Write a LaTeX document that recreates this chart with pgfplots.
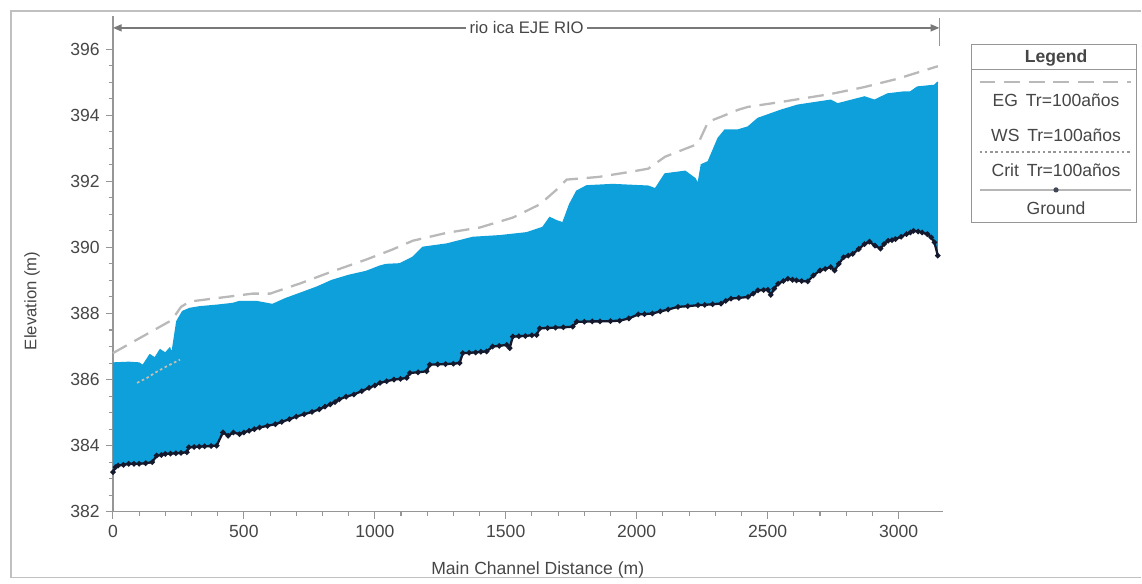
\documentclass[border=0pt]{standalone}
\usepackage{fontspec}
\setmainfont{Liberation Sans}
\usepackage{pgfplots}
\pgfplotsset{compat=1.18}
\usepackage{pgfplotstable}
\usepgfplotslibrary{fillbetween}
\usetikzlibrary{arrows.meta}
\definecolor{water}{RGB}{14,160,218}
\definecolor{txt}{RGB}{70,70,70}
\definecolor{axc}{RGB}{150,150,150}
\definecolor{egc}{RGB}{185,185,185}
\definecolor{critc}{RGB}{200,190,175}
\definecolor{grc}{RGB}{20,25,45}

\pgfplotstableread{
x y
0 383.2
10 383.35
20 383.4
40 383.42
60 383.45
80 383.45
100 383.45
125 383.47
150 383.5
167 383.7
185 383.72
200 383.75
220 383.76
240 383.77
260 383.78
282 383.8
290 383.95
310 383.96
330 383.97
350 383.98
375 383.99
396 384.0
420 384.4
440 384.3
460 384.4
483 384.35
500 384.4
520 384.45
540 384.5
560 384.55
590 384.6
620 384.65
645 384.72
674 384.8
700 384.88
730 384.95
760 385.02
788 385.1
810 385.18
830 385.25
848 385.32
864 385.4
890 385.48
920 385.55
950 385.65
978 385.75
1000 385.82
1020 385.9
1045 385.95
1073 386.0
1098 386.02
1122 386.05
1134 386.2
1165 386.22
1198 386.25
1210 386.45
1240 386.46
1270 386.47
1300 386.48
1324 386.5
1336 386.8
1360 386.81
1385 386.82
1405 386.84
1427 386.85
1450 387.0
1475 387.02
1504 387.05
1515 386.95
1527 387.3
1550 387.31
1575 387.32
1600 387.34
1618 387.35
1630 387.55
1660 387.56
1690 387.57
1720 387.58
1756 387.6
1771 387.75
1800 387.75
1830 387.76
1860 387.76
1900 387.77
1935 387.78
1970 387.85
2006 387.97
2030 387.98
2060 388.0
2090 388.06
2120 388.12
2158 388.2
2195 388.22
2234 388.25
2260 388.26
2290 388.28
2322 388.3
2340 388.38
2360 388.45
2390 388.47
2425 388.5
2445 388.6
2463 388.7
2485 388.71
2501 388.72
2512 388.56
2525 388.75
2540 388.9
2560 388.98
2577 389.05
2595 389.02
2610 389.0
2630 388.98
2653 388.97
2675 389.15
2700 389.3
2720 389.35
2741 389.4
2756 389.3
2772 389.5
2790 389.7
2808 389.75
2825 389.8
2848 389.95
2870 390.1
2889 390.17
2910 390.05
2931 389.96
2945 390.1
2960 390.2
2975 390.22
2988 390.25
3010 390.32
3030 390.4
3045 390.45
3057 390.5
3075 390.48
3090 390.45
3110 390.4
3125 390.3
3137 390.15
3150 389.75
}\ground

\pgfplotstableread{
x y
0 386.5
60 386.52
100 386.5
114 386.42
141 386.75
160 386.65
180 386.9
200 386.8
217 386.95
225 386.77
244 387.76
266 388.06
293 388.15
331 388.2
400 388.25
457 388.3
483 388.36
548 388.36
609 388.27
660 388.45
712 388.6
780 388.8
837 389.0
900 389.15
967 389.27
1019 389.43
1043 389.48
1095 389.5
1145 389.7
1183 390.0
1275 390.1
1374 390.3
1477 390.35
1580 390.44
1641 390.6
1668 390.9
1695 390.8
1718 390.74
1744 391.3
1771 391.7
1809 391.86
1908 391.9
2044 391.85
2071 391.77
2108 392.22
2185 392.3
2223 392.08
2234 391.9
2247 392.5
2273 392.59
2311 393.3
2337 393.55
2387 393.55
2425 393.64
2463 393.9
2552 394.15
2615 394.3
2741 394.45
2767 394.34
2870 394.55
2908 394.45
2958 394.64
3022 394.7
3045 394.7
3072 394.85
3137 394.9
3150 395.0
}\ws

\pgfplotstableread{
x y
0 386.8
225 387.8
260 388.2
293 388.36
533 388.6
600 388.6
712 388.9
837 389.27
967 389.63
1066 389.93
1145 390.2
1275 390.44
1401 390.6
1527 390.9
1630 391.3
1695 391.75
1733 392.05
1854 392.13
1980 392.29
2044 392.38
2108 392.74
2185 392.98
2234 393.13
2273 393.8
2322 393.95
2387 394.16
2425 394.25
2552 394.4
2741 394.64
2870 394.85
2996 395.1
3150 395.48
}\eg

\pgfplotstableread{
x y
92 385.9
130 386.05
170 386.25
210 386.42
256 386.6
}\crit

\begin{document}
\begin{tikzpicture}
\path (0,0) rectangle (22.84,11.62);
% outer frame
\draw[axc!60, line width=0.6pt] (22.84,11.40) -- (0.22,11.40) -- (0.22,0.06) -- (22.84,0.06);
\begin{axis}[
  at={(2.26cm,1.38cm)}, anchor=south west,
  scale only axis, width=16.61cm, height=9.92cm,
  xmin=0, xmax=3170, ymin=382, ymax=397,
  axis x line*=bottom, axis y line*=left,
  axis line style={axc, line width=0.7pt},
  xtick={0,500,...,3000}, ytick={382,384,...,396},
  minor x tick num=4, minor y tick num=3,
  tick align=outside,
  major tick length=4pt, minor tick length=2.5pt,
  tick style={axc, line width=0.6pt},
  /pgf/number format/assume math mode=true,
  /pgf/number format/1000 sep={},
  ticklabel style={font=\fontsize{10}{12}\selectfont, text=txt},
  clip=false,
]
\addplot[name path=wsl, draw=water, line width=0.8pt] table[x=x,y=y] {\ws};
\addplot[name path=grl, draw=none] table[x=x,y=y] {\ground};
\addplot[water] fill between[of=wsl and grl];
\addplot[egc, line width=1.3pt, dash pattern=on 9pt off 5pt] table[x=x,y=y] {\eg};
\addplot[critc, line width=1pt, dash pattern=on 1.5pt off 1.5pt] table[x=x,y=y] {\crit};
\addplot[grc, line width=1.3pt, mark=*, mark size=0.8pt] table[x=x,y=y] {\ground};
% reach annotation
\draw[axc!80!black, line width=0.9pt, {Triangle[length=5pt,width=4pt]}-{Triangle[length=5pt,width=4pt]}] (axis cs:0,396.64) -- (axis cs:3156,396.64);
\node[fill=white, inner sep=2pt, font=\fontsize{9.5}{11}\selectfont, text=txt] at (axis cs:1580,396.64) {rio ica EJE RIO};
\draw[axc, line width=0.7pt] (axis cs:3156,396.95) -- (axis cs:3156,396.1);
\end{axis}
% axis labels
\node[font=\fontsize{10}{12}\selectfont, text=txt] at (10.76,0.22) {Main Channel Distance (m)};
\node[font=\fontsize{9.5}{11}\selectfont, text=txt, rotate=90] at (0.64,5.6) {Elevation (m)};
% legend box
\draw[axc, line width=0.6pt, fill=white] (19.44,7.16) rectangle (22.74,10.72);
\node[font=\bfseries\fontsize{10}{12}\selectfont, text=txt] at (21.13,10.46) {Legend};
\draw[axc, line width=0.6pt] (19.44,10.22) -- (22.74,10.22);
\draw[egc, line width=1.3pt, dash pattern=on 9pt off 5pt] (19.6,9.98) -- (22.64,9.98);
\node[font=\fontsize{10}{12}\selectfont, text=txt] at (21.13,9.62) {EG\, Tr=100años};
\node[font=\fontsize{10}{12}\selectfont, text=txt] at (21.13,8.92) {WS\, Tr=100años};
\draw[axc, line width=0.8pt, dash pattern=on 1.5pt off 1.5pt] (19.6,8.58) -- (22.64,8.58);
\node[font=\fontsize{10}{12}\selectfont, text=txt] at (21.13,8.22) {Crit\, Tr=100años};
\draw[axc!70, line width=0.8pt] (19.6,7.82) -- (22.64,7.82);
\fill[grc!80] (21.13,7.82) circle (1.5pt);
\node[font=\fontsize{10}{12}\selectfont, text=txt] at (21.13,7.46) {Ground};
\end{tikzpicture}
\end{document}
